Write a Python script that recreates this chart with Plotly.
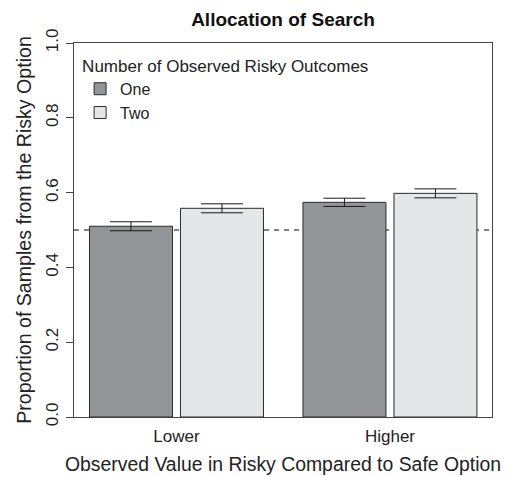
import plotly.graph_objects as go

categories = ["Lower", "Higher"]
series_names = ["One", "Two"]
values_one = [0.510, 0.574]
err_one = [0.012, 0.011]
values_two = [0.558, 0.598]
err_two = [0.012, 0.012]
y_ticks = [0.0, 0.2, 0.4, 0.6, 0.8, 1.0]
reference_level = 0.5

colors = ["#939497", "#e5e6e8"]
FONT = "Liberation Sans, Arial, Helvetica, sans-serif"

fig = go.Figure()
for name, vals, errs, col in zip(series_names, [values_one, values_two], [err_one, err_two], colors):
    fig.add_trace(go.Bar(
        x=categories, y=vals, name=name,
        marker=dict(color=col, line=dict(color="#2b2b2b", width=1)),
        error_y=dict(type="data", array=errs, visible=True, color="#1a1a1a", thickness=1, width=21),
    ))

fig.add_shape(type="line", xref="paper", x0=0, x1=1, yref="y", y0=reference_level, y1=reference_level,
              line=dict(color="#5a5a5a", width=1.3, dash="5px,5px"), layer="below")

fig.update_layout(
    width=512, height=477,
    margin=dict(l=74, r=20, t=43, b=60, autoexpand=False),
    paper_bgcolor="white", plot_bgcolor="white",
    font=dict(family=FONT, size=16, color="#222222"),
    title=dict(text="<b>Allocation of Search</b>", x=(74 + 492) / 2 / 512, xanchor="center",
               y=1 - 19 / 477, yanchor="middle", font=dict(size=19, color="#111111")),
    barmode="group", bargap=0.1475, bargroupgap=0.088,
    showlegend=True,
    legend=dict(title=dict(text="Number of Observed Risky Outcomes", font=dict(size=17)),
                x=0.0146, y=0.982, xanchor="left", yanchor="top",
                bgcolor="rgba(0,0,0,0)", font=dict(size=16), tracegroupgap=0),
    xaxis=dict(range=[-0.480, 1.478], showline=True, mirror=True, linecolor="#444444", linewidth=1,
               ticks="", showgrid=False, zeroline=False, automargin=False,
               tickfont=dict(size=17), ticklabelstandoff=4,
               title=dict(text="Observed Value in Risky Compared to Safe Option", font=dict(size=19.4), standoff=12)),
    yaxis=dict(range=[0, 1], tickvals=y_ticks, ticktext=[f"{v:.1f}" for v in y_ticks],
               showline=True, mirror=True, linecolor="#444444", linewidth=1,
               ticks="outside", ticklen=7, tickcolor="#444444", tickangle=-90, ticklabelstandoff=1,
               showgrid=False, zeroline=False, automargin=False, tickfont=dict(size=17),
               title=dict(text="Proportion of Samples from the Risky Option", font=dict(size=19.6), standoff=6)),
)

fig.write_html("out.html", config={"displayModeBar": False},
               post_script="document.body.style.margin='0';document.body.style.overflow='hidden';")
